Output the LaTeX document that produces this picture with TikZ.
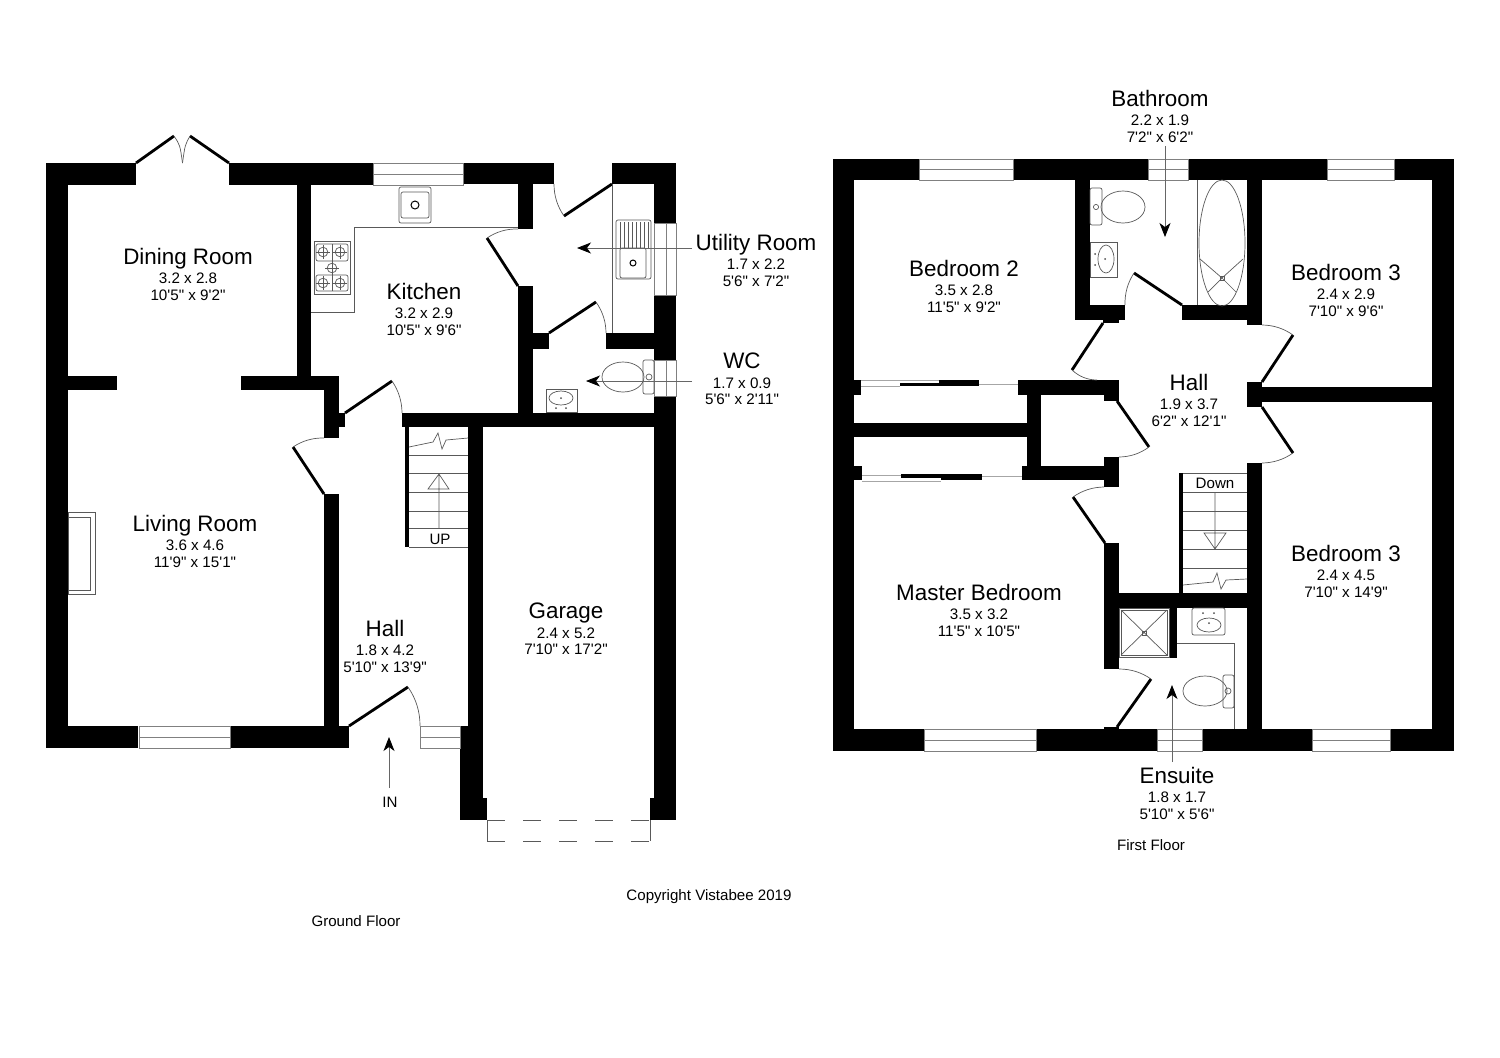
\documentclass[tikz,border=0pt]{standalone}
\usepackage{fontspec}
\usetikzlibrary{arrows.meta,calc}
\newfontfamily\planfont{Liberation Sans}
\newcommand{\bigname}[1]{{\fontsize{11.2}{11.2}\selectfont #1}}
\newcommand{\hingeddoor}[3]{
  \draw[doorleaf] (#1) -- (#2);
  \coordinate (swingc) at ($(#1)!1.094!($(#2)!.5!(#3)$)$);
  \draw[doorswing] (#2) .. controls ($(#2)!.67!(swingc)$) and ($(#3)!.67!(swingc)$) .. (#3);
}
\tikzset{
  wall/.style={fill=black},
  doorleaf/.style={line width=1.4pt},
  doorswing/.style={draw=black!65,line width=.35pt},
  fitting/.style={draw=black!65,line width=.35pt},
  glazing/.style={draw=black!50,line width=.3pt},
  pointer/.style={draw=black!60,line width=.4pt,-{Stealth[black,length=7pt,width=5.5pt,inset=2pt]}},
  roomlabel/.style={font=\planfont\fontsize{7.6}{8.3}\selectfont,align=center,inner sep=0pt,anchor=north},
  planlabel/.style={font=\planfont\fontsize{7.55}{8}\selectfont,inner sep=0pt},
}
\begin{document}
\begin{tikzpicture}[x=0.5pt,y=-0.5pt]
  \useasboundingbox (0,0) rectangle (1500,1057);

  % ground floor walls
  \foreach \xa/\ya/\xb/\yb in {46/163/136/185, 229/163/373/185, 463/163/554/184, 612/163/676/184,
      46/163/68/748, 654/163/676/223, 654/295/676/360, 654/396/676/820, 650/798/676/820,
      297/185/311/376, 68/376/117/390, 241/376/339/390, 324/376/339/438, 339/413/345/427,
      46/726/138/748, 230/726/349/748, 324/494/339/726,
      518/184/533/229, 518/286/533/427, 533/333/549/349, 606/333/654/349,
      402/413/654/427, 468/427/483/820, 460/726/483/820, 483/798/487/820, 405/427/409/547}
    \fill[wall] (\xa,\ya) rectangle (\xb,\yb);

  % first floor walls
  \foreach \xa/\ya/\xb/\yb in {833/159/919/180, 1013/159/1148/180, 1188/159/1327/180, 1394/159/1454/180,
      833/159/854/751, 1432/159/1454/751,
      833/729/924/751, 1036/729/1157/751, 1202/729/1312/751, 1390/729/1454/751,
      1075/180/1090/320, 1075/305/1125/320, 1103/320/1119/323, 1247/180/1262/325, 1182/305/1262/320,
      1247/382/1262/407, 1262/387/1432/402, 1247/463/1262/729,
      1018/380/1119/395, 1104/380/1119/401, 1027/380/1041/480, 854/423/1027/437,
      1022/466/1119/480, 1104/457/1119/487, 1104/543/1119/669, 1119/593/1247/608,
      1169/608/1177/658, 1104/727/1119/729, 1179/473/1183/593,
      854/380/861/395, 900/383/939/386, 939/380/979/386,
      854/466/862/480, 901/474/941/478, 941/474/982/480}
    \fill[wall] (\xa,\ya) rectangle (\xb,\yb);

  % sliding wardrobe doors
  \draw[fitting,black!35] (861,380) -- (939,380) (861,386) -- (900,386) (979,384) -- (1018,384);
  \draw[fitting,black!35] (862,475) -- (901,475) (862,481) -- (941,481) (982,476) -- (1022,476);

  % windows
  \foreach \xa/\xb/\ya/\yb in {373/463/163/185, 139/230/726/748, 919/1013/159/180, 1148/1188/159/180,
      1327/1394/159/180, 924/1036/729/751, 1157/1202/729/751, 1312/1390/729/751, 420/460/726/748}{
    \draw[glazing] (\xa,\ya) rectangle (\xb,\yb);
    \draw[glazing] (\xa,{(\ya+\yb)/2}) -- (\xb,{(\ya+\yb)/2});
  }
  \foreach \ya/\yb in {223/295, 360/396}{
    \draw[glazing] (654,\ya) rectangle (676,\yb);
    \draw[glazing] (666,\ya) -- (666,\yb);
  }

  % doors
  \hingeddoor{345,413}{392,381}{402,413}
  \hingeddoor{324,494}{293,447}{324,438}
  \hingeddoor{349,726}{408,687}{420,726}
  \hingeddoor{518,286}{487,238}{518,229}
  \hingeddoor{612,184}{564,216}{554,184}
  \hingeddoor{549,333}{596,302}{606,333}
  \hingeddoor{1182,305}{1134,273}{1125,305}
  \hingeddoor{1103,323}{1072,370}{1097,380}
  \hingeddoor{1262,382}{1293,335}{1262,325}
  \hingeddoor{1262,407}{1293,453}{1262,463}
  \hingeddoor{1117,401}{1149,447}{1119,457}
  \hingeddoor{1105,543}{1073,497}{1104,487}
  \hingeddoor{1117,727}{1151,679}{1119,669}
  \draw[doorleaf] (136,163) -- (174,136);
  \draw[doorleaf] (229,163) -- (190,136);
  \draw[doorswing] (174,136) .. controls (180,145) .. (182.5,163);
  \draw[doorswing] (190,136) .. controls (185,145) .. (182.5,163);

  % garage door
  \draw[fitting] (487,820) -- (487,841) (650,820) -- (650,841);
  \draw[fitting,dash pattern=on 9pt off 9pt] (487,820) -- (650,820) (487,841) -- (650,841);

  % stairs up
  \foreach \y in {455,473,492,511,528,547}
    \draw[fitting] (409,\y) -- (468,\y);
  \draw[fitting] (409,447) -- (433,442) -- (438,433) -- (442,449) -- (446,440) -- (468,438);
  \draw[fitting] (439,528) -- (439,474) (428,489) -- (439,474) -- (449,489) -- cycle;

  % stairs down
  \draw[fitting] (1183,473) -- (1247,473);
  \foreach \y in {492,511,530,549,568}
    \draw[fitting] (1183,\y) -- (1247,\y);
  \draw[fitting] (1183,585) -- (1213,582) -- (1217,573) -- (1221,589) -- (1226,580) -- (1247,579);
  \draw[fitting] (1215,492) -- (1215,549) (1204,533) -- (1215,549) -- (1226,533) -- cycle;

  % fireplace
  \draw[fitting] (68,512) rectangle (95,594);
  \draw[fitting] (68,517) rectangle (90,590);

  % kitchen
  \draw[fitting] (311,312) -- (354,312) -- (354,227) -- (518,227);
  \draw[fitting,rounded corners=1pt] (399,187) rectangle (431,223);
  \draw[fitting,rounded corners=1pt] (401,192) rectangle (429,218);
  \draw[line width=.5pt] (415,205) circle (2pt);
  \draw[fitting] (314,241) rectangle (350,294);
  \draw[fitting,rounded corners=1pt] (316,244) rectangle (348,261) (316,275) rectangle (348,291);
  \draw[fitting] (332,244) -- (332,261) (332,275) -- (332,291);
  \foreach \x/\y in {323/252, 340/252, 332/268, 323/283, 340/283}{
    \draw[fitting] (\x,\y) circle (2.4pt);
    \draw[fitting] (\x-7,\y) -- (\x+7,\y) (\x,\y-7) -- (\x,\y+7);
  }

  % utility
  \draw[fitting] (612,184) -- (612,333);
  \draw[fitting,rounded corners=1pt] (616,220) rectangle (651,279);
  \draw[fitting,rounded corners=1pt] (620,248) rectangle (646,278);
  \foreach \x in {620,624,...,648}
    \draw[fitting] (\x,222) -- (\x,248);
  \draw[line width=.5pt] (633,263) circle (1.5pt);

  % wc
  \draw[fitting,rounded corners=1pt] (643,360) rectangle (654,394);
  \draw[fitting] (623,377) ellipse (10.5pt and 7.5pt);
  \draw[fitting] (649,377) circle (1.5pt);
  \draw[fitting] (546,412) rectangle (577,389);
  \draw[fitting] (561,398) ellipse (6pt and 3.5pt);
  \foreach \x/\y in {561/398, 556/408, 566/408}
    \fill[black!70] (\x,\y) circle (.5pt);

  % bathroom
  \draw[fitting] (1197,180) -- (1197,305);
  \draw[fitting] (1222,243) ellipse (11.5pt and 31.5pt);
  \draw[fitting] (1200,259) -- (1222,278) -- (1243,259) (1208,292) -- (1222,278) -- (1236,292);
  \draw[fitting] (1220,276) rectangle (1224,280);
  \draw[fitting,rounded corners=1pt] (1090,188) rectangle (1102,225);
  \draw[fitting] (1123,207) ellipse (11pt and 8pt);
  \draw[fitting] (1096,207) circle (1.3pt);
  \draw[fitting] (1090,242) rectangle (1117,277);
  \draw[fitting] (1106,259) ellipse (4pt and 7pt);
  \foreach \x/\y in {1095/254, 1095/265, 1105/259}
    \fill[black!70] (\x,\y) circle (.5pt);

  % ensuite
  \draw[fitting] (1119,608) rectangle (1169,657);
  \draw[fitting] (1121,610) rectangle (1167,655);
  \draw[fitting] (1121,610) -- (1167,655) (1167,610) -- (1121,655);
  \draw[fitting] (1142,631) rectangle (1146,635);
  \draw[fitting,rounded corners=1pt] (1192,608) rectangle (1225,635);
  \draw[fitting] (1209,625) ellipse (6pt and 3.5pt);
  \foreach \x/\y in {1203/613, 1214/613, 1209/623}
    \fill[black!70] (\x,\y) circle (.5pt);
  \draw[fitting] (1177,643) -- (1234,643) -- (1234,729);
  \draw[fitting,rounded corners=1pt] (1223,675) rectangle (1234,708);
  \draw[fitting] (1205,691) ellipse (11pt and 7.5pt);
  \draw[fitting] (1228,691) circle (1.5pt);

  % room labels
  \node[roomlabel] (dining) at (188,247.5) {\bigname{Dining Room}\\[1.6pt]3.2 x 2.8\\10'5" x 9'2"};
  \node[roomlabel] (kitchen) at (424,282.5) {\bigname{Kitchen}\\[1.6pt]3.2 x 2.9\\10'5" x 9'6"};
  \node[roomlabel] (living) at (195,514.5) {\bigname{Living Room}\\[1.6pt]3.6 x 4.6\\11'9" x 15'1"};
  \node[roomlabel] (hallg) at (385,619.5) {\bigname{Hall}\\[1.6pt]1.8 x 4.2\\5'10" x 13'9"};
  \node[roomlabel] (garage) at (566,602.5) {\bigname{Garage}\\[1.6pt]2.4 x 5.2\\7'10" x 17'2"};
  \node[roomlabel] (utility) at (756,233.5) {\bigname{Utility Room}\\[1.6pt]1.7 x 2.2\\5'6" x 7'2"};
  \node[roomlabel] (wc) at (742,352.5) {\bigname{WC}\\[1.6pt]1.7 x 0.9\\5'6" x 2'11"};
  \node[roomlabel] (bathroom) at (1160,89.5) {\bigname{Bathroom}\\[1.6pt]2.2 x 1.9\\7'2" x 6'2"};
  \node[roomlabel] (bedtwo) at (964,259.5) {\bigname{Bedroom 2}\\[1.6pt]3.5 x 2.8\\11'5" x 9'2"};
  \node[roomlabel] (bedthree) at (1346,263.5) {\bigname{Bedroom 3}\\[1.6pt]2.4 x 2.9\\7'10" x 9'6"};
  \node[roomlabel] (hallf) at (1189,373.5) {\bigname{Hall}\\[1.6pt]1.9 x 3.7\\6'2" x 12'1"};
  \node[roomlabel] (master) at (979,583.5) {\bigname{Master Bedroom}\\[1.6pt]3.5 x 3.2\\11'5" x 10'5"};
  \node[roomlabel] (bedfour) at (1346,544.5) {\bigname{Bedroom 3}\\[1.6pt]2.4 x 4.5\\7'10" x 14'9"};
  \node[roomlabel] (ensuite) at (1177,766.5) {\bigname{Ensuite}\\[1.6pt]1.8 x 1.7\\5'10" x 5'6"};

  \node[planlabel] (up) at (440,539) {UP};
  \node[planlabel] (down) at (1215,483) {Down};
  \node[planlabel] (in) at (390,802) {IN};
  \node[planlabel] (ground) at (356,921) {Ground Floor};
  \node[planlabel] (first) at (1151,845) {First Floor};
  \node[planlabel] (copyright) at (709,897) {Copyright Vistabee 2019};

  % arrows
  \coordinate (utilitytip) at (577,248);
  \coordinate (utilitytail) at (692,248);
  \coordinate (wctip) at (586,381);
  \coordinate (wctail) at (692,381);
  \coordinate (intip) at (389,737);
  \coordinate (intail) at (389,788);
  \coordinate (bathtip) at (1165,237);
  \coordinate (bathtail) at (1165,146);
  \coordinate (ensuitetip) at (1172,685);
  \coordinate (ensuitetail) at (1172,762);
  \draw[pointer] (utilitytail) -- (utilitytip);
  \draw[pointer] (wctail) -- (wctip);
  \draw[pointer] (intail) -- (intip);
  \draw[pointer] (bathtail) -- (bathtip);
  \draw[pointer] (ensuitetail) -- (ensuitetip);
\end{tikzpicture}
\end{document}
